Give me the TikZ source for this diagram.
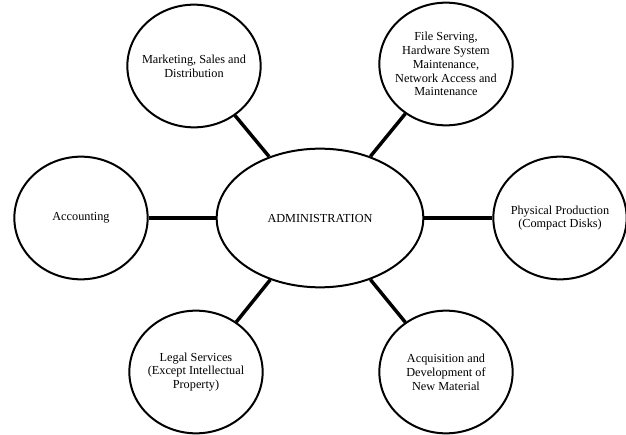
\documentclass[tikz,border=0pt]{standalone}
\usepackage{fontspec}
\setmainfont{Liberation Serif}
\usetikzlibrary{shapes.geometric}

\tikzset{
  unitbox/.style={ellipse, draw=black, line width=1.5pt, fill=white,
    minimum width=100pt, minimum height=92pt, inner sep=-8pt,
    align=center, font=\fontsize{9.2pt}{10.4pt}\selectfont},
  hub/.style={unitbox, minimum width=155pt, minimum height=104pt},
  link/.style={draw=black, line width=2.6pt}
}

\begin{document}
\begin{tikzpicture}[x=0.75pt, y=-0.75pt]
  \useasboundingbox (0,0) rectangle (626,435);

  % central unit
  \node[hub] (admin) at (320,218) {ADMINISTRATION};

  % surrounding units
  \node[unitbox] (mkt)  at (194,66)  {Marketing, Sales and\\Distribution};
  \node[unitbox] (file) at (446,64)  {File Serving,\\Hardware System\\Maintenance,\\Network Access and\\Maintenance};
  \node[unitbox] (acct) at (81,218)  {Accounting};
  \node[unitbox] (phys) at (560,218) {Physical Production\\(Compact Disks)};
  \node[unitbox] (legal) at (196,372) {Legal Services\\(Except Intellectual\\Property)};
  \node[unitbox] (acq)  at (446,372) {Acquisition and\\Development of\\New Material};

  % connectors
  \draw[link] (admin) -- (mkt);
  \draw[link] (admin) -- (file);
  \draw[link] (admin) -- (acct);
  \draw[link] (admin) -- (phys);
  \draw[link] (admin) -- (legal);
  \draw[link] (admin) -- (acq);
\end{tikzpicture}
\end{document}
